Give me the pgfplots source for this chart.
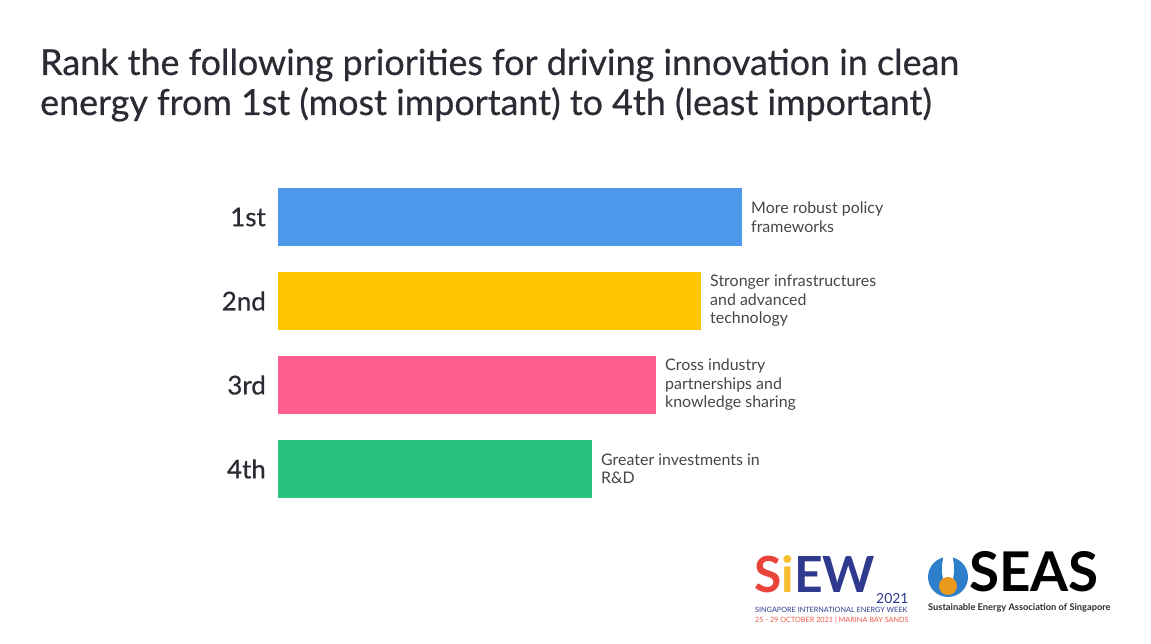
\documentclass[border=0pt]{standalone}
\usepackage{pgfplots}
\pgfplotsset{compat=1.18}
\usepackage{fontspec}
\setmainfont{Lato}
\newfontfamily\titlefont{Lato}[FakeBold=0.5]
\definecolor{cblue}{HTML}{4F99EC}
\definecolor{cyellow}{HTML}{FCC500}
\definecolor{cpink}{HTML}{FF5E8F}
\definecolor{cgreen}{HTML}{28C47E}
\definecolor{ctitle}{HTML}{2A2C33}
\definecolor{clabel}{HTML}{45464B}
\definecolor{sred}{HTML}{E8443A}
\definecolor{syellow}{HTML}{F6BE2C}
\definecolor{snavy}{HTML}{2F3A8F}
\definecolor{steal}{HTML}{4EC5C6}
\definecolor{scoral}{HTML}{EF5B4C}
\definecolor{seblue}{HTML}{2E7FC9}
\definecolor{seorange}{HTML}{E99A1E}
\begin{document}
\begin{tikzpicture}[x=1bp,y=1bp]
\path[fill=white] (0,0) rectangle (1151,644);
% title
\node[anchor=base west, inner sep=0, font=\titlefont\fontsize{36}{42}\selectfont, text=ctitle] at (40,569) {Rank the following priorities for driving innovation in clean};
\node[anchor=base west, inner sep=0, font=\titlefont\fontsize{36}{42}\selectfont, text=ctitle] at (40,529) {energy from 1st (most important) to 4th (least important)};
\begin{axis}[
  at={(278bp,469bp)}, anchor=north west,
  scale only axis, width=500bp, height=336bp,
  xmin=0, xmax=500, ymin=0.5, ymax=4.5, y dir=reverse,
  xbar, bar width=58bp, bar shift=0pt,
  axis line style={draw=none},
  xtick=\empty, ytick={1,2,3,4}, yticklabels={1st,2nd,3rd,4th},
  major tick length=0pt,
  yticklabel style={font=\titlefont\fontsize{26}{30}\selectfont, text=ctitle, inner sep=0pt, anchor=east, xshift=-12bp},
  clip=false,
]
\addplot[fill=cblue, draw=none] coordinates {(464,1)};
\addplot[fill=cyellow, draw=none] coordinates {(423,2)};
\addplot[fill=cpink, draw=none] coordinates {(378,3)};
\addplot[fill=cgreen, draw=none] coordinates {(314,4)};
\tikzset{lab/.style={anchor=west, align=left, inner sep=0pt, xshift=9bp, font=\fontsize{16}{18.5}\selectfont, text=clabel}}
\node[lab] at (axis cs:464,1) {More robust policy\\frameworks};
\node[lab] at (axis cs:423,2) {Stronger infrastructures\\and advanced\\technology};
\node[lab] at (axis cs:378,3) {Cross industry\\partnerships and\\knowledge sharing};
\node[lab] at (axis cs:314,4) {Greater investments in\\R\&D};
\end{axis}
% SIEW logo
\node[anchor=base west, inner sep=0, font=\fontsize{50}{50}\selectfont\bfseries] at (754,51) {\textcolor{sred}{S}\textcolor{syellow}{i}\textcolor{snavy}{E}\textcolor{snavy}{W}};
\node[anchor=base west, inner sep=0, font=\fontsize{14}{14}\selectfont, text=snavy] at (876,40) {2021};
\node[anchor=base west, inner sep=0, font=\fontsize{7.3}{8}\selectfont, text=snavy] at (755,31) {SINGAPORE INTERNATIONAL ENERGY WEEK};
\node[anchor=base west, inner sep=0, font=\fontsize{7.3}{8}\selectfont, text=scoral] at (755,21) {25 - 29 OCTOBER 2021 | MARINA BAY SANDS};
% SEAS logo
\fill[seblue] (948,67) circle (20);
\fill[white] (948,75) ellipse (6 and 18);
\fill[seorange] (948,58) circle (9);
\node[anchor=base west, inner sep=0, font=\fontsize{55}{55}\selectfont\bfseries, text=black] at (969,52) {SEAS};
\node[anchor=base west, inner sep=0, font=\fontsize{9.3}{10}\selectfont\bfseries, text=ctitle] at (928,33) {Sustainable Energy Association of Singapore};
\end{tikzpicture}
\end{document}
